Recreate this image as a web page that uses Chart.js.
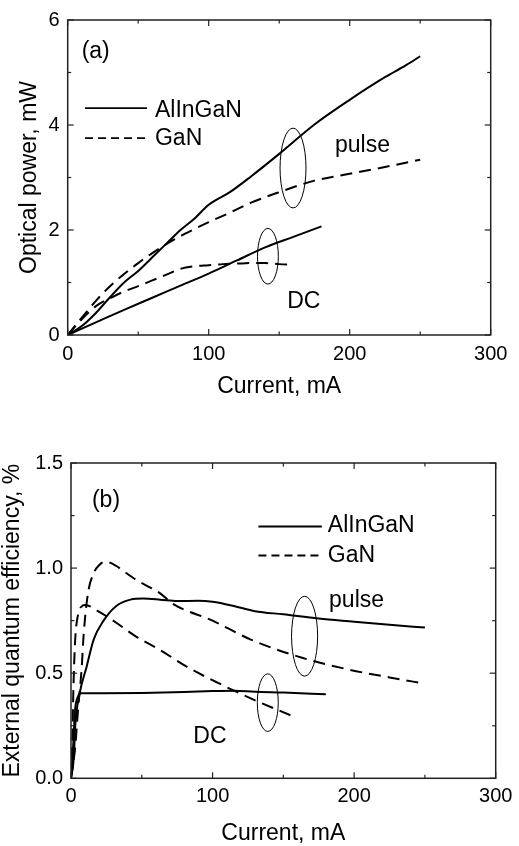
<!DOCTYPE html>
<html><head><meta charset="utf-8">
<script src="https://cdn.jsdelivr.net/npm/chart.js@4/dist/chart.umd.min.js"></script>
<style>
html,body{margin:0;padding:0;background:#fff;width:519px;height:846px;overflow:hidden;}
.wrap{position:absolute;left:0;width:519px;height:423px;}
#wA{top:0;} #wB{top:423px;}
</style></head><body>
<div class="wrap" id="wA"><canvas id="cA" width="519" height="423"></canvas></div>
<div class="wrap" id="wB"><canvas id="cB" width="519" height="423"></canvas></div>
<script>
// ---------- DATA: panel (a) optical power (mW) vs current (mA) ----------
const pulseAlCurrent = [0,10,20,30,40,50,60,70,80,90,100,115,130,150,175,200,225,240,250];
const pulseAlPower   = [0,0.17,0.42,0.72,1.0,1.22,1.48,1.74,2.0,2.22,2.48,2.72,3.02,3.45,4.01,4.48,4.91,5.14,5.31];
const pulseGaNCurrent = [0,10,20,30,40,50,60,75,90,100,115,130,150,175,200,225,250];
const pulseGaNPower   = [0,0.33,0.65,0.93,1.16,1.37,1.56,1.81,2.02,2.15,2.33,2.52,2.72,2.94,3.07,3.2,3.34];
const dcAlCurrent = [0,20,40,60,80,100,120,140,160,180];
const dcAlPower   = [0,0.24,0.48,0.71,0.94,1.17,1.42,1.67,1.87,2.07];
const dcGaNCurrent = [0,10,20,30,40,50,60,70,80,90,100,110,120,130,140,150,160];
const dcGaNPower   = [0,0.30,0.55,0.70,0.83,0.93,1.04,1.15,1.26,1.31,1.33,1.35,1.36,1.37,1.37,1.35,1.34];

// ---------- DATA: panel (b) external quantum efficiency (%) vs current (mA) ----------
const ePulseAlCurrent = [0,2,3,6,11,16,23,32,42,51,63,75,90,100,115,130,150,175,200,225,250];
const ePulseAlEff     = [0,0.10,0.25,0.40,0.53,0.66,0.75,0.82,0.85,0.855,0.85,0.843,0.845,0.84,0.82,0.795,0.78,0.76,0.745,0.73,0.717];
const ePulseGaNCurrent = [0,3,5,7.5,9,12,16,20,24,28,32,46,63,72,100,127,160,197,225,250];
const ePulseGaNEff     = [0,0.15,0.33,0.52,0.69,0.88,0.975,1.015,1.03,1.025,1.01,0.944,0.88,0.83,0.75,0.66,0.58,0.516,0.48,0.45];
const eDcAlCurrent = [0,1.5,2.8,5,6.5,20,50,80,100,115,130,150,180];
const eDcAlEff     = [0,0.15,0.32,0.39,0.405,0.405,0.406,0.41,0.415,0.417,0.412,0.408,0.40];
const eDcGaNCurrent = [0,1,1.6,2.8,5,8,10,18,32,46,63,82,105,127,155];
const eDcGaNEff     = [0,0.2,0.4,0.64,0.78,0.82,0.825,0.80,0.74,0.674,0.61,0.53,0.45,0.38,0.30];

// ---------- tick values ----------
const xTicks = [0,100,200,300];
const xMinor = [50,150,250];
const yTicksA = [0,2,4,6];
const yMinorA = [1,3,5];
const yTicksB = [0,0.5,1.0,1.5];
const yMinorB = [0.25,0.75,1.25];

const seriesNames = ['AlInGaN','GaN'];

const FONT = '"Liberation Sans", Arial, Helvetica, sans-serif';
Chart.defaults.font.family = FONT;
Chart.defaults.color = '#000';

function pts(xs, ys){ return xs.map((v,i)=>({x:v, y:ys[i]})); }
function ds(xs, ys, dashed){
  return {data: pts(xs,ys), borderColor:'#000', borderWidth:2, borderDash: dashed?[12,7]:[],
    pointRadius:0, showLine:true, fill:false, cubicInterpolationMode:'monotone'};
}

const frameTicks = {
  id:'frameTicks',
  afterDraw(chart, args, o){
    const {ctx, chartArea:{left,right,top,bottom}, scales:{x,y}} = chart;
    ctx.save();
    ctx.strokeStyle='#222'; ctx.lineWidth=1.5;
    ctx.strokeRect(left,top,right-left,bottom-top);
    ctx.lineWidth=1.2;
    const L=(a,b,c,d)=>{ctx.beginPath();ctx.moveTo(a,b);ctx.lineTo(c,d);ctx.stroke();};
    o.xMajor.forEach(v=>{const p=x.getPixelForValue(v); L(p,bottom,p,bottom-6); L(p,top,p,top+6);});
    o.xMinor.forEach(v=>{const p=x.getPixelForValue(v); L(p,bottom,p,bottom-3.5); L(p,top,p,top+3.5);});
    o.yMajor.forEach(v=>{const p=y.getPixelForValue(v); L(left,p,left+6,p); L(right,p,right-6,p);});
    o.yMinor.forEach(v=>{const p=y.getPixelForValue(v); L(left,p,left+3.5,p); L(right,p,right-3.5,p);});
    ctx.restore();
  }
};

const annot = {
  id:'annot',
  afterDatasetsDraw(chart, args, o){
    const {ctx, scales:{x,y}} = chart;
    ctx.save();
    ctx.strokeStyle='#000'; ctx.lineWidth=1; ctx.setLineDash([]);
    o.ellipses.forEach(e=>{
      const cx=x.getPixelForValue(e.x), cy=y.getPixelForValue(e.y);
      const rx=Math.abs(x.getPixelForValue(e.x+e.rx)-cx), ry=Math.abs(y.getPixelForValue(e.y+e.ry)-cy);
      ctx.beginPath(); ctx.ellipse(cx,cy,rx,ry,0,0,Math.PI*2); ctx.stroke();
    });
    ctx.fillStyle='#000'; ctx.textAlign='left'; ctx.textBaseline='alphabetic';
    ctx.font='23px '+FONT;
    o.texts.forEach(t=>{ ctx.fillText(t.text, x.getPixelForValue(t.x), y.getPixelForValue(t.y)); });
    // legend
    const lg=o.legend;
    ctx.lineWidth=1.8;
    lg.rows.forEach((r,i)=>{
      const py=y.getPixelForValue(r.lineY);
      ctx.setLineDash(i===1?[8,5]:[]);
      ctx.beginPath(); ctx.moveTo(x.getPixelForValue(lg.x0),py); ctx.lineTo(x.getPixelForValue(lg.x1),py); ctx.stroke();
      ctx.setLineDash([]);
      ctx.fillText(seriesNames[i], x.getPixelForValue(lg.tx), y.getPixelForValue(r.textY));
    });
    ctx.restore();
  }
};

function makeChart(id, cfg){
  return new Chart(document.getElementById(id), {
    type:'scatter',
    data:{datasets: cfg.datasets},
    options:{
      responsive:false, animation:false,
      layout:{padding:{left:0, top:cfg.padTop, right:cfg.padRight, bottom:0}},
      plugins:{legend:{display:false}, tooltip:{enabled:false},
        frameTicks:{xMajor:xTicks, xMinor:xMinor, yMajor:cfg.yMajor, yMinor:cfg.yMinor},
        annot:cfg.annot},
      scales:{
        x:{type:'linear', min:0, max:300, position:'bottom',
          afterFit(s){ s.height = cfg.xHeight; },
          grid:{display:false, drawTicks:false}, border:{display:false},
          ticks:{stepSize:100, padding:cfg.xTickPad, font:{size:20}, color:'#000',
            callback:v=> xTicks.includes(v)? String(v) : ''},
          title:{display:true, text:'Current, mA', font:{size:23, lineHeight:1}, color:'#000', padding:{top:0,bottom:cfg.xTitlePad}}},
        y:{type:'linear', min:cfg.yMin, max:cfg.yMax, position:'left',
          afterFit(s){ s.width = cfg.yWidth; },
          grid:{display:false, drawTicks:false}, border:{display:false},
          ticks:{stepSize:cfg.yStep, padding:8, font:{size:20}, color:'#000', callback:cfg.yFmt},
          title:{display:true, text:cfg.yTitle, font:{size:23, lineHeight:1}, color:'#000', padding:{top:cfg.yTitlePad,bottom:0}}}
      }
    },
    plugins:[frameTicks, annot]
  });
}

makeChart('cA', {
  datasets:[ds(pulseAlCurrent,pulseAlPower,false), ds(pulseGaNCurrent,pulseGaNPower,true),
            ds(dcAlCurrent,dcAlPower,false), ds(dcGaNCurrent,dcGaNPower,true)],
  padTop:20, padRight:28.3, xHeight:88, yWidth:67.7, xTickPad:7.5, xTitlePad:24.5, yTitlePad:18,
  yMin:0, yMax:6, yStep:2, yMajor:yTicksA, yMinor:yMinorA,
  yFmt:v=> yTicksA.includes(v)? String(v):'',
  yTitle:'Optical power, mW',
  annot:{
    ellipses:[{x:159.8,y:3.18,rx:9.2,ry:0.76},{x:142,y:1.50,rx:7.4,ry:0.53}],
    texts:[{text:'(a)',x:9.9,y:5.27},{text:'pulse',x:189.6,y:3.49},{text:'DC',x:155.7,y:0.52}],
    legend:{x0:12.3,x1:56.2,tx:61.9,rows:[{lineY:4.32,textY:4.16},{lineY:3.75,textY:3.62}]}
  }
});

makeChart('cB', {
  datasets:[ds(ePulseAlCurrent,ePulseAlEff,false), ds(ePulseGaNCurrent,ePulseGaNEff,true),
            ds(eDcAlCurrent,eDcAlEff,false), ds(eDcGaNCurrent,eDcGaNEff,true)],
  padTop:40, padRight:23.3, xHeight:67.7, yWidth:71, xTickPad:6.2, xTitlePad:1, yTitlePad:1,
  yMin:0, yMax:1.5, yStep:0.5, yMajor:yTicksB, yMinor:yMinorB,
  yFmt:v=> yTicksB.some(t=>Math.abs(t-v)<1e-9)? v.toFixed(1):'',
  yTitle:'External quantum efficiency, %',
  annot:{
    ellipses:[{x:165,y:0.676,rx:9.2,ry:0.19},{x:139,y:0.36,rx:7.4,ry:0.137}],
    texts:[{text:'(b)',x:14.8,y:1.293},{text:'pulse',x:182.3,y:0.817},{text:'DC',x:86.4,y:0.167}],
    legend:{x0:132.4,x1:177.2,tx:181.4,rows:[{lineY:1.198,textY:1.171},{lineY:1.06,textY:1.031}]}
  }
});
</script>
</body></html>
